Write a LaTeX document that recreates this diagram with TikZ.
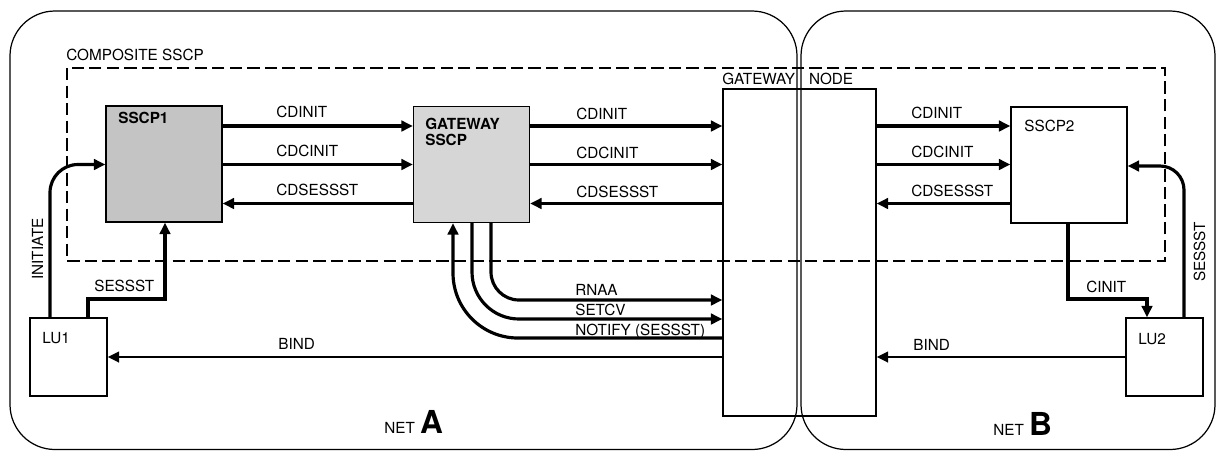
\documentclass[tikz,border=0pt]{standalone}
\usepackage{fontspec}
\setmainfont{TeX Gyre Heros}
\usepackage{tikz}
\usetikzlibrary{arrows.meta}
\definecolor{stippledark}{HTML}{C4C4C4}
\definecolor{stipplelight}{HTML}{D6D6D6}

\tikzset{
  netline/.style={line width=0.7pt,rounded corners=0.9cm},
  unitbox/.style={rectangle,draw,line width=0.8pt,inner sep=0pt,minimum width=2.32cm,minimum height=2.32cm},
  lubox/.style={rectangle,draw,line width=0.8pt,inner sep=0pt,minimum width=1.54cm,minimum height=1.56cm},
  boxname/.style={font=\fontsize{8.7}{9.1}\selectfont,align=left,anchor=north west,inner sep=0pt},
  lbl/.style={font=\fontsize{8.7}{9}\selectfont,anchor=base west,inner sep=0pt},
  msg/.style={-{Triangle[length=6.5pt,width=6pt]},line width=1.8pt},
  reply/.style={msg,line width=1.5pt}
}

\begin{document}
\begin{tikzpicture}[x=0.02cm,y=-0.02cm]
\useasboundingbox (0,0) rectangle (1217,451);
% networks and the composite SSCP
\draw[netline] (10,11) rectangle (797,449.5);
\draw[netline] (801,11) rectangle (1215,449.5);
\draw[dash pattern=on 7pt off 3pt,line width=0.6pt] (67,68) rectangle (1165,261);
\node[lbl] (comp) at (66,60) {COMPOSITE SSCP};

% boxes
\node[unitbox,fill=stippledark] (sscp1) at (164,164) {};
\node[unitbox,fill=stipplelight] (gw) at (471.5,164.5) {};
\node[unitbox] (sscp2) at (1069,165) {};
\node[rectangle,draw,line width=0.8pt,inner sep=0pt,minimum width=3.06cm,minimum height=6.54cm] (gn) at (799.5,252.5) {};
\node[lubox] (lu1) at (68.5,357) {};
\node[lubox] (lu2) at (1164.5,357) {};

\node[boxname,font=\fontsize{8.7}{9.1}\selectfont\bfseries] (sscp1name) at (118,112) {SSCP1};
\node[boxname,font=\fontsize{8.7}{9.1}\selectfont\bfseries] (gwname) at (425,118) {GATEWAY\\SSCP};
\node[boxname] (sscp2name) at (1024,120) {SSCP2};
\node[boxname] (lu1name) at (42,332) {LU1};
\node[boxname] (lu2name) at (1138,333) {LU2};
\node[lbl] (gnname) at (722,84) {GATEWAY\hspace{8pt}NODE};

% levels and columns
\coordinate (ra) at (0,126);
\coordinate (rb) at (0,164.5);
\coordinate (rc) at (0,203.5);
\coordinate (yrn) at (0,300);
\coordinate (ysc) at (0,319);
\coordinate (yno) at (0,338);
\coordinate (ybd) at (0,357);
\coordinate (yss) at (0,299);
\coordinate (ysd) at (0,166);
\coordinate (xin) at (50,0);
\coordinate (xsa) at (88,0);
\coordinate (xsb) at (165,0);
\coordinate (xno) at (453,0);
\coordinate (xsc) at (472,0);
\coordinate (xrn) at (491,0);
\coordinate (xca) at (1068,0);
\coordinate (xcb) at (1147,0);
\coordinate (xsd) at (1184,0);

% SSCP1 <-> gateway SSCP
\draw[msg] (sscp1.east |- ra) -- (gw.west |- ra);
\draw[msg] (sscp1.east |- rb) -- (gw.west |- rb);
\draw[msg] (gw.west |- rc) -- (sscp1.east |- rc);
\node[lbl] (l1a) at (276,117) {CDINIT};
\node[lbl] (l1b) at (276,156) {CDCINIT};
\node[lbl] (l1c) at (276,195) {CDSESSST};

% gateway SSCP <-> gateway node
\draw[msg] (gw.east |- ra) -- (gn.west |- ra);
\draw[msg] (gw.east |- rb) -- (gn.west |- rb);
\draw[msg] (gn.west |- rc) -- (gw.east |- rc);
\node[lbl] (l2a) at (576,119) {CDINIT};
\node[lbl] (l2b) at (576,158) {CDCINIT};
\node[lbl] (l2c) at (576,197) {CDSESSST};

% gateway node <-> SSCP2
\draw[msg] (gn.east |- ra) -- (sscp2.west |- ra);
\draw[msg] (gn.east |- rb) -- (sscp2.west |- rb);
\draw[msg] (sscp2.west |- rc) -- (gn.east |- rc);
\node[lbl] (l3a) at (911,118) {CDINIT};
\node[lbl] (l3b) at (911,157) {CDCINIT};
\node[lbl] (l3c) at (911,196) {CDSESSST};

% gateway SSCP <-> gateway node, lower paths
\draw[msg,rounded corners=0.56cm] (gw.south -| xrn) |- (gn.west |- yrn);
\draw[msg,rounded corners=0.94cm] (gw.south -| xsc) |- (gn.west |- ysc);
\draw[msg,rounded corners=1.3cm] (gn.west |- yno) -| (gw.south -| xno);
\node[lbl] (lrn) at (575,295) {RNAA};
\node[lbl] (lsc) at (575,315) {SETCV};
\node[lbl] (lno) at (575,335) {NOTIFY (SESSST)};

% net A
\draw[msg,rounded corners=0.56cm] (lu1.north -| xin) |- (sscp1.west |- rb);
\node[lbl,rotate=90,anchor=base] (lin) at (43,249) {INITIATE};
\draw[msg] (lu1.north -| xsa) |- (xsb |- yss) -- (sscp1.south -| xsb);
\node[lbl] (lsa) at (94,291) {SESSST};
\draw[reply] (gn.west |- ybd) -- (lu1.east |- ybd);
\node[lbl] (lba) at (278,349) {BIND};

% net B
\draw[msg] (sscp2.south -| xca) |- (xcb |- yss) -- (lu2.north -| xcb);
\node[lbl] (lci) at (1086,292) {CINIT};
\draw[msg,rounded corners=0.48cm] (lu2.north -| xsd) |- (sscp2.east |- ysd);
\node[lbl,rotate=90,anchor=base] (lsb) at (1205,252) {SESSST};
\draw[reply] (lu2.west |- ybd) -- (gn.east |- ybd);
\node[lbl] (lbb) at (913,350) {BIND};

\node[lbl] (neta) at (384,433) {NET\hspace{3pt}{\bfseries\fontsize{18}{18}\selectfont A}};
\node[lbl] (netb) at (993,435) {NET\hspace{3pt}{\bfseries\fontsize{18}{18}\selectfont B}};
\end{tikzpicture}
\end{document}
